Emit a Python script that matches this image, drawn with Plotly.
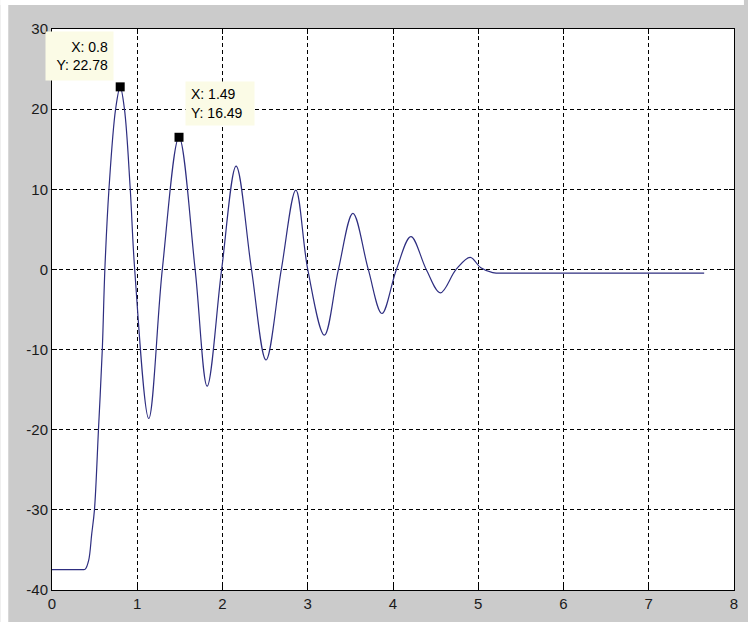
import plotly.graph_objects as go

# Signal (x in s, y in units)
x_vals = [0.0, 0.2, 0.36, 0.39, 0.43, 0.466, 0.498, 0.545, 0.59, 0.62, 0.668, 0.746, 0.8,
          0.85, 0.918, 0.97, 1.135, 1.294, 1.49, 1.679,
          1.82, 1.99, 2.16, 2.34, 2.51, 2.69, 2.86, 3.0, 3.195, 3.36,
          3.53, 3.71, 3.87, 4.04, 4.21, 4.39, 4.556, 4.74, 4.906, 5.03, 5.17, 5.4, 7.65]
y_vals = [-37.45, -37.45, -37.45, -37.4, -36.3, -33.0, -30.0, -20.0, -10.0, 0.0, 10.0, 20.0, 22.78,
          20.0, 10.0, 0.0, -18.6, 0.0, 16.49, 0.0,
          -14.57, 0.0, 12.9, 0.0, -11.3, 0.0, 9.9, 0.0, -8.2, 0.0,
          7.0, 0.0, -5.5, 0.0, 4.1, 0.0, -2.92, 0.0, 1.5, 0.2, -0.4, -0.45, -0.45]

# Data tips
tip_x = [0.8, 1.49]
tip_y = [22.78, 16.49]
tip_text = ["X: 0.8<br>Y: 22.78", "X: 1.49<br>Y: 16.49"]

x_ticks = [0, 1, 2, 3, 4, 5, 6, 7, 8]
x_labels = ["0", "1", "2", "3", "4", "5", "6", "7", "8"]
y_ticks = [-40, -30, -20, -10, 0, 10, 20, 30]
y_labels = ["-40", "-30", "-20", "-10", "0", "10", "20", "30"]

fig = go.Figure()
fig.add_trace(go.Scatter(
    x=x_vals, y=y_vals, mode="lines",
    line=dict(color="#2E2E80", width=1.2, shape="spline", smoothing=1.0),
    showlegend=False, hoverinfo="skip"))
fig.add_trace(go.Scatter(
    x=tip_x, y=tip_y, mode="markers",
    marker=dict(symbol="square", size=9, color="black"),
    showlegend=False, hoverinfo="skip"))

tip_font = dict(family="Liberation Sans, Arial, sans-serif", size=14, color="black")
fig.add_annotation(x=tip_x[0], y=tip_y[0], text=tip_text[0], showarrow=False,
                   xanchor="right", yanchor="bottom", xshift=-6, yshift=6,
                   align="right", bgcolor="#FBFBE6", borderpad=5, width=57, height=38,
                   font=tip_font)
fig.add_annotation(x=tip_x[1], y=tip_y[1], text=tip_text[1], showarrow=False,
                   xanchor="left", yanchor="bottom", xshift=6, yshift=11,
                   align="left", bgcolor="#FBFBE6", borderpad=5, width=58, height=33,
                   font=tip_font)

axis_font = dict(family="Liberation Sans, Arial, sans-serif", size=15, color="#1a1a1a")
common = dict(showline=True, linecolor="black", linewidth=1, mirror="ticks",
              ticks="inside", ticklen=5, tickcolor="black",
              showgrid=True, gridcolor="black", gridwidth=1, griddash="4px,3px",
              zeroline=False, tickfont=axis_font)
fig.update_xaxes(range=[0, 8], tickvals=x_ticks, ticktext=x_labels, **common)
fig.update_yaxes(range=[-40, 30], tickvals=y_ticks, ticktext=y_labels, **common)

# thin white strips at top and left of the window capture
pw, ph = 686.0, 561.0
fig.add_shape(type="rect", xref="paper", yref="paper", layer="below",
              x0=-52 / pw, x1=-44 / pw, y0=-32 / ph, y1=(561 + 29) / ph,
              fillcolor="white", line=dict(width=0))
fig.add_shape(type="rect", xref="paper", yref="paper", layer="below",
              x0=-52 / pw, x1=(686 + 10) / pw, y0=(561 + 24) / ph, y1=(561 + 29) / ph,
              fillcolor="white", line=dict(width=0))

fig.update_layout(width=748, height=622,
                  margin=dict(l=52, r=10, t=29, b=32),
                  paper_bgcolor="#CBCBCB", plot_bgcolor="white")

fig.write_html("out.html")
